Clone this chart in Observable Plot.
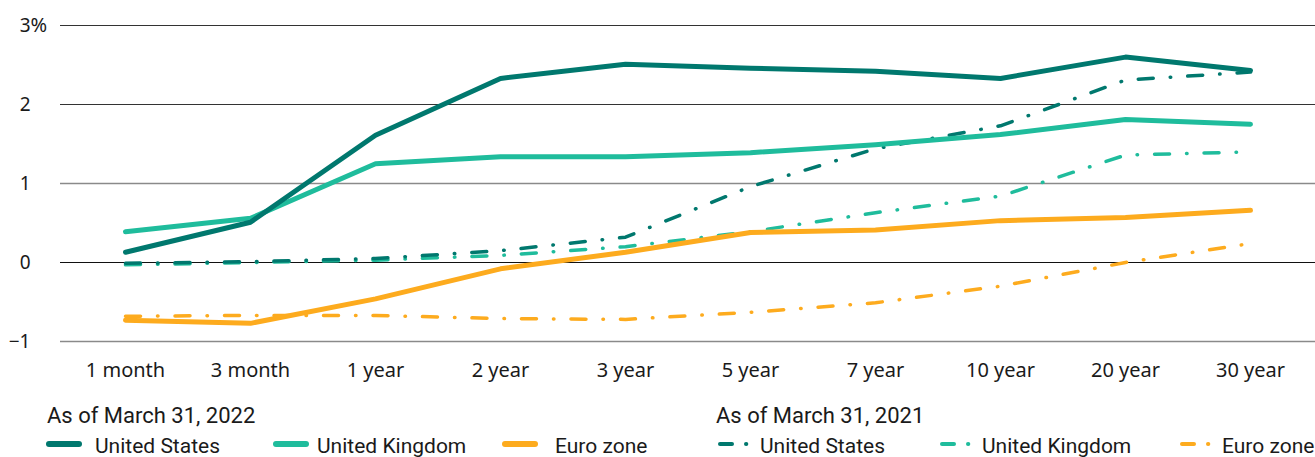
<!DOCTYPE html>
<html>
<head>
<meta charset="utf-8">
<script src="https://cdn.jsdelivr.net/npm/d3@7"></script>
<script src="https://cdn.jsdelivr.net/npm/@observablehq/plot@0.6"></script>
<style>
  html, body { margin: 0; padding: 0; background: #fff; }
  #wrap { position: relative; width: 1315px; height: 457px; overflow: hidden; }
  .lg { position: absolute; font-family: "Roboto", sans-serif; color: #1a1a1a; white-space: nowrap; line-height: 1; }
  .lg-title { font-size: 22px; }
  .lg-item { font-size: 21px; }
  .sw { position: absolute; }
</style>
</head>
<body>
<div id="wrap"></div>
<script>
const tenors = ["1 month","3 month","1 year","2 year","3 year","5 year","7 year","10 year","20 year","30 year"];
const us2022 = [0.13, 0.51, 1.61, 2.33, 2.51, 2.46, 2.42, 2.33, 2.60, 2.43];
const uk2022 = [0.39, 0.56, 1.25, 1.34, 1.34, 1.39, 1.49, 1.62, 1.81, 1.75];
const ez2022 = [-0.73, -0.77, -0.46, -0.08, 0.13, 0.38, 0.41, 0.53, 0.57, 0.66];
const us2021 = [-0.01, 0.01, 0.05, 0.15, 0.32, 0.96, 1.44, 1.73, 2.31, 2.41];
const uk2021 = [-0.03, 0.00, 0.03, 0.09, 0.20, 0.39, 0.63, 0.84, 1.36, 1.40];
const ez2021 = [-0.68, -0.67, -0.67, -0.71, -0.72, -0.63, -0.51, -0.30, 0.00, 0.24];
const yTicks = [3, 2, 1, 0, -1];
const seriesNames = ["United States", "United Kingdom", "Euro zone"];
const colors = ["#00786e", "#1fbc9c", "#fdab1e"];
const legendTitles = ["As of March 31, 2022", "As of March 31, 2021"];

const rows = (vals) => tenors.map((t, i) => ({tenor: t, value: vals[i]}));
const gridColor = {3: "#333", 2: "#333", 1: "#8a8a8a", 0: "#111", "-1": "#8a8a8a"};
const dash = "15,17,0.5,17";

const chart = Plot.plot({
  width: 1315,
  height: 390,
  marginLeft: 60,
  marginRight: 0,
  marginTop: 25,
  marginBottom: 49,
  style: {fontFamily: "'Noto Sans', sans-serif", fontSize: "19px", color: "#1a1a1a", background: "#fff"},
  x: {type: "point", domain: tenors, padding: 0.5, label: null},
  y: {domain: [-1, 3], label: null},
  marks: [
    Plot.ruleY(yTicks, {y: d => d, stroke: d => gridColor[d], strokeWidth: d => (d === 1 || d === -1) ? 1.6 : 1.1}),
    Plot.axisX({tickSize: 0, tickPadding: 21, fontSize: 20, label: null, style: {letterSpacing: "0.6px"}}),
    Plot.axisY({ticks: yTicks, tickSize: 0, tickPadding: 30, textAnchor: "end", fontSize: 19, label: null,
      tickFormat: d => d < 0 ? "\u2212" + Math.abs(d) : String(d)}),
    Plot.text([3], {y: d => d, frameAnchor: "left", dx: -30, textAnchor: "start", text: () => "%", fontSize: 20}),
    Plot.line(rows(ez2021), {x: "tenor", y: "value", stroke: colors[2], strokeWidth: 3.5, strokeDasharray: dash, strokeLinecap: "round"}),
    Plot.line(rows(uk2021), {x: "tenor", y: "value", stroke: colors[1], strokeWidth: 3.5, strokeDasharray: dash, strokeLinecap: "round"}),
    Plot.line(rows(us2021), {x: "tenor", y: "value", stroke: colors[0], strokeWidth: 3.5, strokeDasharray: dash, strokeLinecap: "round"}),
    Plot.line(rows(ez2022), {x: "tenor", y: "value", stroke: colors[2], strokeWidth: 5, strokeLinecap: "round", strokeLinejoin: "round"}),
    Plot.line(rows(uk2022), {x: "tenor", y: "value", stroke: colors[1], strokeWidth: 5, strokeLinecap: "round", strokeLinejoin: "round"}),
    Plot.line(rows(us2022), {x: "tenor", y: "value", stroke: colors[0], strokeWidth: 5, strokeLinecap: "round", strokeLinejoin: "round"})
  ]
});

const wrap = document.getElementById("wrap");
chart.style.position = "absolute";
chart.style.left = "0px";
chart.style.top = "0px";
wrap.appendChild(chart);

function addText(txt, cls, left, top) {
  const d = document.createElement("div");
  d.className = "lg " + cls;
  d.textContent = txt;
  d.style.left = left + "px";
  d.style.top = top + "px";
  wrap.appendChild(d);
}
function addSwatch(left, top, color, dashed) {
  const ns = "http://www.w3.org/2000/svg";
  const s = document.createElementNS(ns, "svg");
  s.setAttribute("width", 44); s.setAttribute("height", 10);
  s.setAttribute("class", "sw");
  s.style.left = left + "px"; s.style.top = top + "px";
  const mk = (x1, x2, w) => {
    const l = document.createElementNS(ns, "line");
    l.setAttribute("x1", x1); l.setAttribute("x2", x2);
    l.setAttribute("y1", 5); l.setAttribute("y2", 5);
    l.setAttribute("stroke", color); l.setAttribute("stroke-width", w);
    l.setAttribute("stroke-linecap", "round");
    s.appendChild(l);
  };
  if (dashed) { mk(4, 16, 4); mk(30, 30.3, 4); } else { mk(5, 35, 6); }
  wrap.appendChild(s);
}

addText(legendTitles[0], "lg-title", 47, 405);
addText(legendTitles[1], "lg-title", 716, 405);
const solidX = [[44, 95], [271, 317], [500, 555]];
const dashX = [[716, 760], [938, 982], [1178, 1222]];
seriesNames.forEach((n, i) => {
  addSwatch(solidX[i][0], 439, colors[i], false);
  addText(n, "lg-item", solidX[i][1], 436);
  addSwatch(dashX[i][0], 439, colors[i], true);
  addText(n, "lg-item", dashX[i][1], 436);
});
</script>
</body>
</html>
